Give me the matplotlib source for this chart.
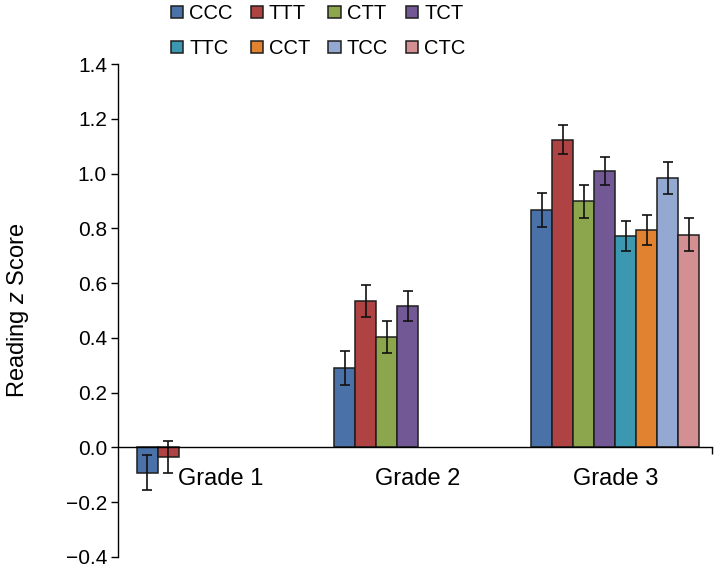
import matplotlib
matplotlib.use("Agg")
import matplotlib.pyplot as plt
import numpy as np

plt.rcParams['font.family'] = ['Liberation Sans Narrow', 'Liberation Sans', 'DejaVu Sans']
plt.rcParams['mathtext.fontset'] = 'custom'
plt.rcParams['mathtext.it'] = 'Liberation Sans:style=italic'
plt.rcParams['mathtext.rm'] = 'Liberation Sans'

grades = ["Grade 1", "Grade 2", "Grade 3"]
series = ["CCC", "TTT", "CTT", "TCT", "TTC", "CCT", "TCC", "CTC"]
colors = ["#4A72A8", "#AF4242", "#8BA64C", "#735896", "#3C97B0", "#E0822F", "#93A9D2", "#D38F91"]

values = {
    "Grade 1": [-0.093, -0.035],
    "Grade 2": [0.290, 0.534, 0.403, 0.516],
    "Grade 3": [0.868, 1.124, 0.898, 1.009, 0.773, 0.794, 0.984, 0.777],
}
errors = {
    "Grade 1": [0.064, 0.059],
    "Grade 2": [0.061, 0.059, 0.059, 0.054],
    "Grade 3": [0.062, 0.054, 0.059, 0.052, 0.054, 0.055, 0.059, 0.059],
}
yticks = [-0.4, -0.2, 0.0, 0.2, 0.4, 0.6, 0.8, 1.0, 1.2, 1.4]

fig = plt.figure(figsize=(7.15, 5.7), dpi=100)
ax = fig.add_axes([118/715, 13/570, (712-118)/715, (557-64)/570])

group_step = 9.4
handles = {}
for g, grade in enumerate(grades):
    vals = values[grade]
    errs = errors[grade]
    for i, (v, e) in enumerate(zip(vals, errs)):
        x = g * group_step + i + 0.5
        b = ax.bar(x, v, width=1.0, color=colors[i], edgecolor="#1e1e1e", linewidth=1.1,
                   yerr=e, capsize=3.6, error_kw=dict(ecolor="#111111", elinewidth=1.2, capthick=1.2),
                   zorder=2)
        handles.setdefault(series[i], b)

xmax = 27.4
ax.set_xlim(-0.89, xmax)
ax.set_ylim(-0.4, 1.4)
ax.set_yticks(yticks)
ax.set_yticklabels([f"{t:.1f}".replace("-", "\u2212") for t in yticks], fontsize=15)
ax.tick_params(axis='y', direction='out', length=5, width=1, pad=3)

ax.spines['top'].set_visible(False)
ax.spines['right'].set_visible(False)
ax.spines['bottom'].set_position(('data', 0))
ax.spines['left'].set_linewidth(1)
ax.spines['bottom'].set_linewidth(1)

ax.set_xticks([g * group_step + 4 for g in range(len(grades))])
ax.set_xticklabels(grades, fontsize=17)
ax.tick_params(axis='x', which='major', length=0, pad=15)
ax.set_xticks([xmax - 0.02], minor=True)
ax.tick_params(axis='x', which='minor', length=5, width=1, direction='out')

ax.set_ylabel("Reading $z$ Score", fontsize=17, labelpad=25)

order = ["CCC", "TTC", "TTT", "CCT", "CTT", "TCC", "TCT", "CTC"]
leg = fig.legend([handles[s] for s in order], order, ncol=4, loc='upper left',
                 bbox_to_anchor=(163/715, 1.0 + 4/570), frameon=False, fontsize=14.5,
                 handlelength=0.6, handleheight=0.6, handletextpad=0.3,
                 columnspacing=0.9, labelspacing=0.8, borderaxespad=0)

fig.savefig("out.png", dpi=100)
